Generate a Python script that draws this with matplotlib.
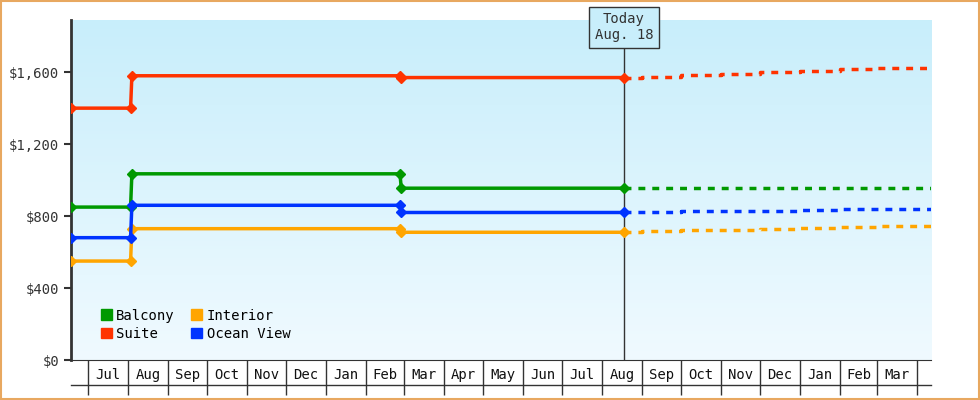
import matplotlib
matplotlib.use("Agg")
import matplotlib.pyplot as plt
import matplotlib.dates as mdates
import numpy as np
import datetime as dt
from matplotlib.transforms import blended_transform_factory
from matplotlib.patches import Rectangle

D = lambda s: mdates.date2num(dt.date.fromisoformat(s))

x_start, x_end, today = "2023-06-18", "2025-04-12", "2024-08-18"
month_starts = ["2023-07-01","2023-08-01","2023-09-01","2023-10-01","2023-11-01","2023-12-01",
                "2024-01-01","2024-02-01","2024-03-01","2024-04-01","2024-05-01","2024-06-01",
                "2024-07-01","2024-08-01","2024-09-01","2024-10-01","2024-11-01","2024-12-01",
                "2025-01-01","2025-02-01","2025-03-01","2025-04-01"]
month_labels = ["Jul","Aug","Sep","Oct","Nov","Dec","Jan","Feb","Mar","Apr","May","Jun",
                "Jul","Aug","Sep","Oct","Nov","Dec","Jan","Feb","Mar"]

# historical points: (date, price)
hist_dates = ["2023-06-18", "2023-08-03", "2023-08-04", "2024-02-27", "2024-02-28", "2024-08-18"]
balcony_hist  = [850, 850, 1035, 1035, 955, 955]
suite_hist    = [1400, 1400, 1580, 1580, 1570, 1570]
ocean_hist    = [680, 680, 860, 860, 820, 820]
interior_hist = [550, 550, 730, 730, 710, 710]

fc_dates = ["2024-08-18","2024-09-01","2024-10-01","2024-11-01","2024-12-01",
            "2025-01-01","2025-02-01","2025-03-01","2025-04-12"]
balcony_fc  = [955, 955, 955, 955, 955, 955, 955, 955, 955]
suite_fc    = [1570, 1575, 1583, 1590, 1600, 1607, 1615, 1622, 1630]
ocean_fc    = [820, 823, 826, 828, 830, 836, 838, 842, 844]
interior_fc = [710, 715, 720, 724, 728, 733, 738, 744, 750]

series = [("Balcony", "#009900", balcony_hist, balcony_fc),
          ("Suite", "#ff3300", suite_hist, suite_fc),
          ("Interior", "#ffa500", interior_hist, interior_fc),
          ("Ocean View", "#0033ff", ocean_hist, ocean_fc)]

plt.rcParams["font.family"] = "DejaVu Sans Mono"
fig = plt.figure(figsize=(9.8, 4), dpi=100)
fig.patch.set_facecolor("white")
fig.add_artist(Rectangle((0.001, 0.002), 0.998, 0.996, transform=fig.transFigure,
                         fill=False, edgecolor="#e8a860", lw=1.5))
ax = fig.add_axes([71/980, 40/400, 860/980, 340/400])
x0, x1 = D(x_start), D(x_end)
ax.set_xlim(x0, x1)
ax.set_ylim(0, 1890)

grad = np.linspace(0, 1, 256).reshape(-1, 1)
from matplotlib.colors import LinearSegmentedColormap
cm = LinearSegmentedColormap.from_list("g", ["#f0faff", "#c8eefb"])
ax.imshow(grad, extent=[x0, x1, 0, 1890], origin="lower", aspect="auto", cmap=cm, zorder=0)

hd = [D(s) for s in hist_dates]
fd = [D(s) for s in fc_dates]
for name, c, h, f in series:
    ax.plot(hd, h, color=c, lw=2.5, marker="D", ms=5, zorder=3, label=name)
    ax.plot(fd, f, color=c, lw=2.5, ls=(0, (2, 2)), drawstyle="steps-post", zorder=3)

td = D(today)
ax.axvline(td, color="#333333", lw=1, zorder=2)
ax.text(td, 1850, "Today\nAug. 18", ha="center", va="center", fontsize=10, color="#333333",
        bbox=dict(boxstyle="square,pad=0.4", fc="#c8eefb", ec="#333333", lw=1), zorder=5)

for s in ["top", "right"]:
    ax.spines[s].set_visible(False)
ax.spines["left"].set_linewidth(2)
ax.spines["left"].set_color("#333333")
ax.spines["bottom"].set_color("#333333")
ax.set_yticks([0, 400, 800, 1200, 1600])
ax.set_yticklabels(["$0", "$400", "$800", "$1,200", "$1,600"], fontsize=10, color="#333333")
ax.tick_params(axis="y", length=5, width=1.5, color="#333333")

ms = [D(s) for s in month_starts]
ax.set_xticks(ms)
ax.set_xticklabels([])
ax.tick_params(axis="x", which="major", length=25, width=1, color="#333333")
mids = [(a + b) / 2 for a, b in zip(ms[:-1], ms[1:])]
ax.set_xticks(mids, minor=True)
ax.set_xticklabels(month_labels, minor=True, fontsize=10, color="#111111")
ax.tick_params(axis="x", which="minor", length=0, pad=6)
tr = blended_transform_factory(ax.transAxes, ax.transAxes)
ax.plot([0, 1], [-25/340, -25/340], transform=tr, color="#333333", lw=1, clip_on=False)

ax.legend(loc="lower left", ncol=2, frameon=False, fontsize=10, handlelength=0.8,
          handleheight=0.8, columnspacing=1.2, handletextpad=0.3, labelspacing=0.3,
          bbox_to_anchor=(0.02, 0.02),
          handles=[Rectangle((0, 0), 1, 1, color=c) for _, c, _, _ in series],
          labels=[n for n, _, _, _ in series])

fig.savefig("out.png", dpi=100)
